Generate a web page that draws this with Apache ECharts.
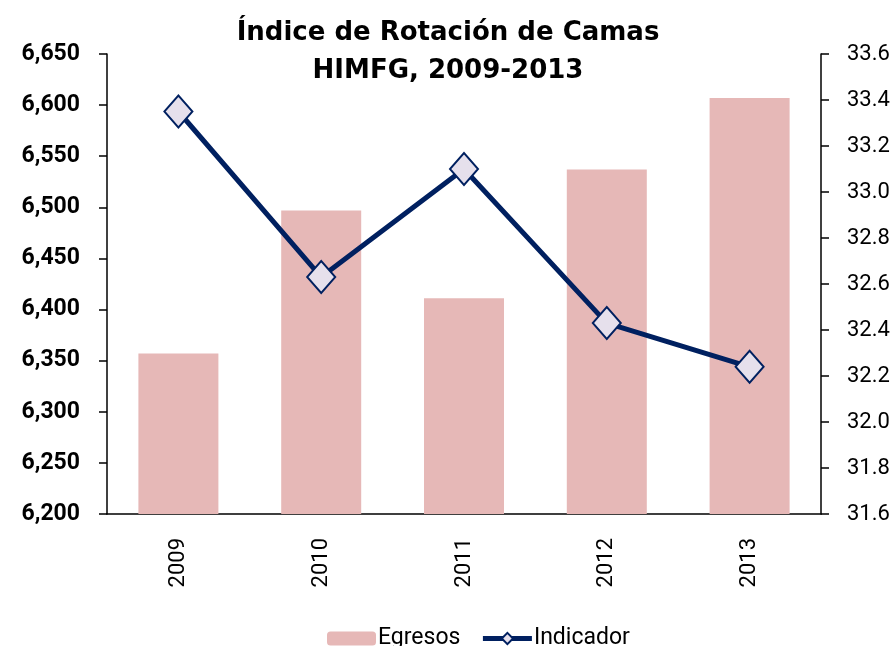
<html>

<head>
  <script src="https://cdnjs.cloudflare.com/ajax/libs/echarts/6.0.0/echarts.min.js"></script>
</head>

<body style="margin:0">
  <div id="main" style="width: 896px;height:646px;"></div>
  <script>
    var years = ['2009', '2010', '2011', '2012', '2013'];
    var egresos = [6357, 6497, 6411, 6537, 6607];
    var indicador = [33.35, 32.63, 33.10, 32.43, 32.24];

    var myChart = echarts.init(document.getElementById('main'));
    var font = 'Roboto';

    option = {
      animation: false,
      title: {
        text: 'Índice de Rotación de Camas\nHIMFG, 2009-2013',
        left: 'center',
        top: 9,
        textStyle: {
          fontFamily: 'DejaVu Sans',
          fontWeight: 'bold',
          fontSize: 26,
          lineHeight: 38,
          color: '#000'
        }
      },
      legend: {
        left: 322,
        top: 622,
        itemWidth: 49,
        itemHeight: 14,
        itemGap: 20,
        textStyle: {
          fontFamily: font,
          fontSize: 23,
          color: '#000',
          padding: [0, 0, 0, -3]
        },
        data: ['Egresos', {
          name: 'Indicador',
          lineStyle: { width: 5 }
        }]
      },
      grid: {
        left: 107,
        right: 75,
        top: 54,
        bottom: 132
      },
      xAxis: [{
        type: 'category',
        data: years,
        axisLine: { lineStyle: { color: '#000', width: 1.5 } },
        axisTick: { length: 8, lineStyle: { color: '#000', width: 1.5 } },
        axisLabel: {
          rotate: 90,
          margin: 24,
          fontFamily: font,
          fontSize: 22,
          color: '#000'
        }
      }],
      yAxis: [{
          type: 'value',
          min: 6200,
          max: 6650,
          interval: 50,
          position: 'left',
          splitLine: { show: false },
          axisLine: { show: true, lineStyle: { color: '#000', width: 1.5 } },
          axisTick: { show: true, length: 8, lineStyle: { color: '#000', width: 1.5 } },
          axisLabel: {
            margin: 27,
            fontFamily: font,
            fontWeight: 'bold',
            fontSize: 23,
            color: '#000',
            formatter: function (v) {
              return echarts.format.addCommas(v);
            }
          }
        },
        {
          type: 'value',
          min: 31.6,
          max: 33.6,
          interval: 0.2,
          position: 'right',
          splitLine: { show: false },
          axisLine: { show: true, lineStyle: { color: '#000', width: 1.5 } },
          axisTick: { show: true, length: 8, lineStyle: { color: '#000', width: 1.5 } },
          axisLabel: {
            margin: 26,
            fontFamily: font,
            fontSize: 22,
            color: '#000',
            formatter: function (v) {
              return v.toFixed(1);
            }
          }
        }
      ],
      series: [{
          name: 'Egresos',
          type: 'bar',
          barWidth: 80,
          itemStyle: { color: '#E6B8B7' },
          data: egresos
        },
        {
          name: 'Indicador',
          type: 'line',
          yAxisIndex: 1,
          symbol: 'diamond',
          symbolSize: [28, 32],
          lineStyle: { color: '#002060', width: 5 },
          itemStyle: { color: '#E6E0EC', borderColor: '#002060', borderWidth: 2 },
          data: indicador
        }
      ]
    };

    myChart.setOption(option);

  </script>
</body>

</html>
